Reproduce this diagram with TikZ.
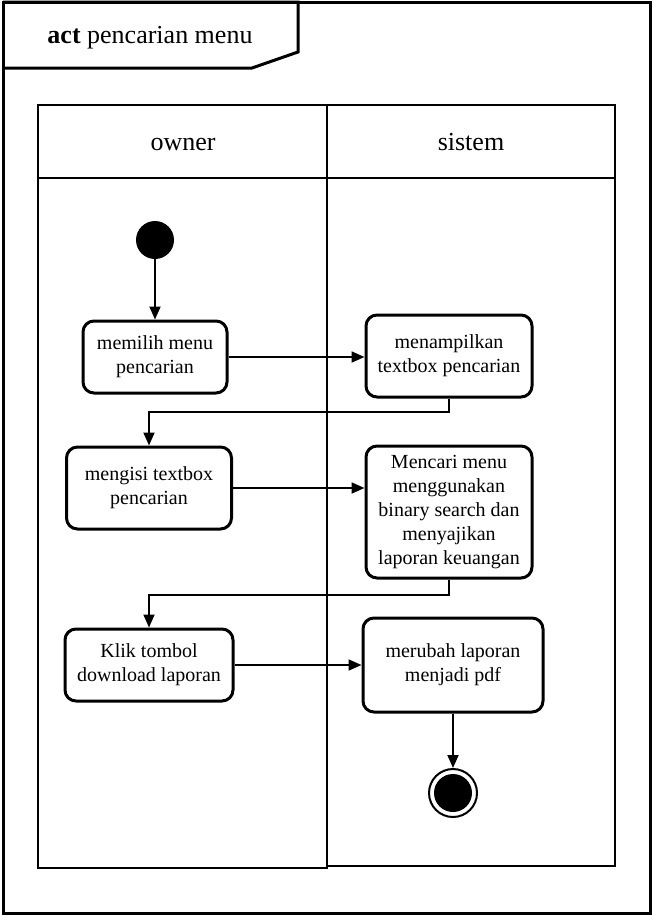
\documentclass[tikz,border=0pt]{standalone}
\usepackage{fontspec}
\setmainfont{Liberation Serif}
\usetikzlibrary{arrows.meta}
\begin{document}
\begin{tikzpicture}[x=1pt,y=-1pt,
  frame/.style={draw,line width=3pt},
  lane/.style={draw,line width=2.8pt},
  actbox/.style={draw,line width=3pt,rounded corners=11pt,align=center,inner sep=2pt,
    font=\fontsize{20}{24}\selectfont},
  startnode/.style={circle,fill=black,minimum size=38pt,inner sep=0pt},
  endnode/.style={circle,draw,line width=2pt,minimum size=48pt,inner sep=0pt,
    path picture={\fill[black] (path picture bounding box.center) circle (19pt);}},
  flow/.style={line width=1.8pt,-{Triangle[length=13pt,width=11pt]}},
  hdr/.style={font=\fontsize{26}{30}\selectfont,anchor=base,inner sep=0pt}
]
\useasboundingbox (0,0) rectangle (653,916);
% outer frame and tab
\draw[frame] (3,2) rectangle (650,913);
\draw[frame,line join=miter] (3,2) -- (298,2) -- (298,52) -- (252,68) -- (3,68);
\node[hdr] (title) at (150,43) {\textbf{act} pencarian menu};
% swimlanes
\draw[lane] (38,105) rectangle (327,868);
\draw[lane] (327,105) rectangle (615,866);
\draw[lane] (38,178) -- (615,178);
\node[hdr] (owner) at (183,150) {owner};
\node[hdr] (sistem) at (471,150) {sistem};
% nodes
\node[startnode] (start) at (155,240) {};
\node[actbox,minimum width=144pt,minimum height=72pt] (b1) at (155,357) {memilih menu\\pencarian};
\node[actbox,minimum width=166pt,minimum height=82pt] (b2) at (449,356) {menampilkan\\textbox pencarian};
\node[actbox,minimum width=165pt,minimum height=82pt] (b3) at (149,488) {mengisi textbox\\pencarian};
\node[actbox,minimum width=166pt,minimum height=132pt] (b4) at (449,512) {Mencari menu\\menggunakan\\binary search dan\\menyajikan\\laporan keuangan};
\node[actbox,minimum width=168pt,minimum height=72pt] (b5) at (149,665) {Klik tombol\\download laporan};
\node[actbox,minimum width=180pt,minimum height=94pt] (b6) at (453,665) {merubah laporan\\menjadi pdf};
\node[endnode] (end) at (453,793) {};
\coordinate (j1) at (300,412);
\coordinate (j2) at (300,595);
% connectors
\draw[flow] (start) -- (b1);
\draw[flow] (b1.east) -- (b1.east -| b2.west);
\draw[flow] (b2.south) |- (j1) -| (b3.north);
\draw[flow] (b3.east) -- (b3.east -| b4.west);
\draw[flow] (b4.south) |- (j2) -| (b5.north);
\draw[flow] (b5.east) -- (b5.east -| b6.west);
\draw[flow] (b6.south) -- (end);
\end{tikzpicture}
\end{document}
